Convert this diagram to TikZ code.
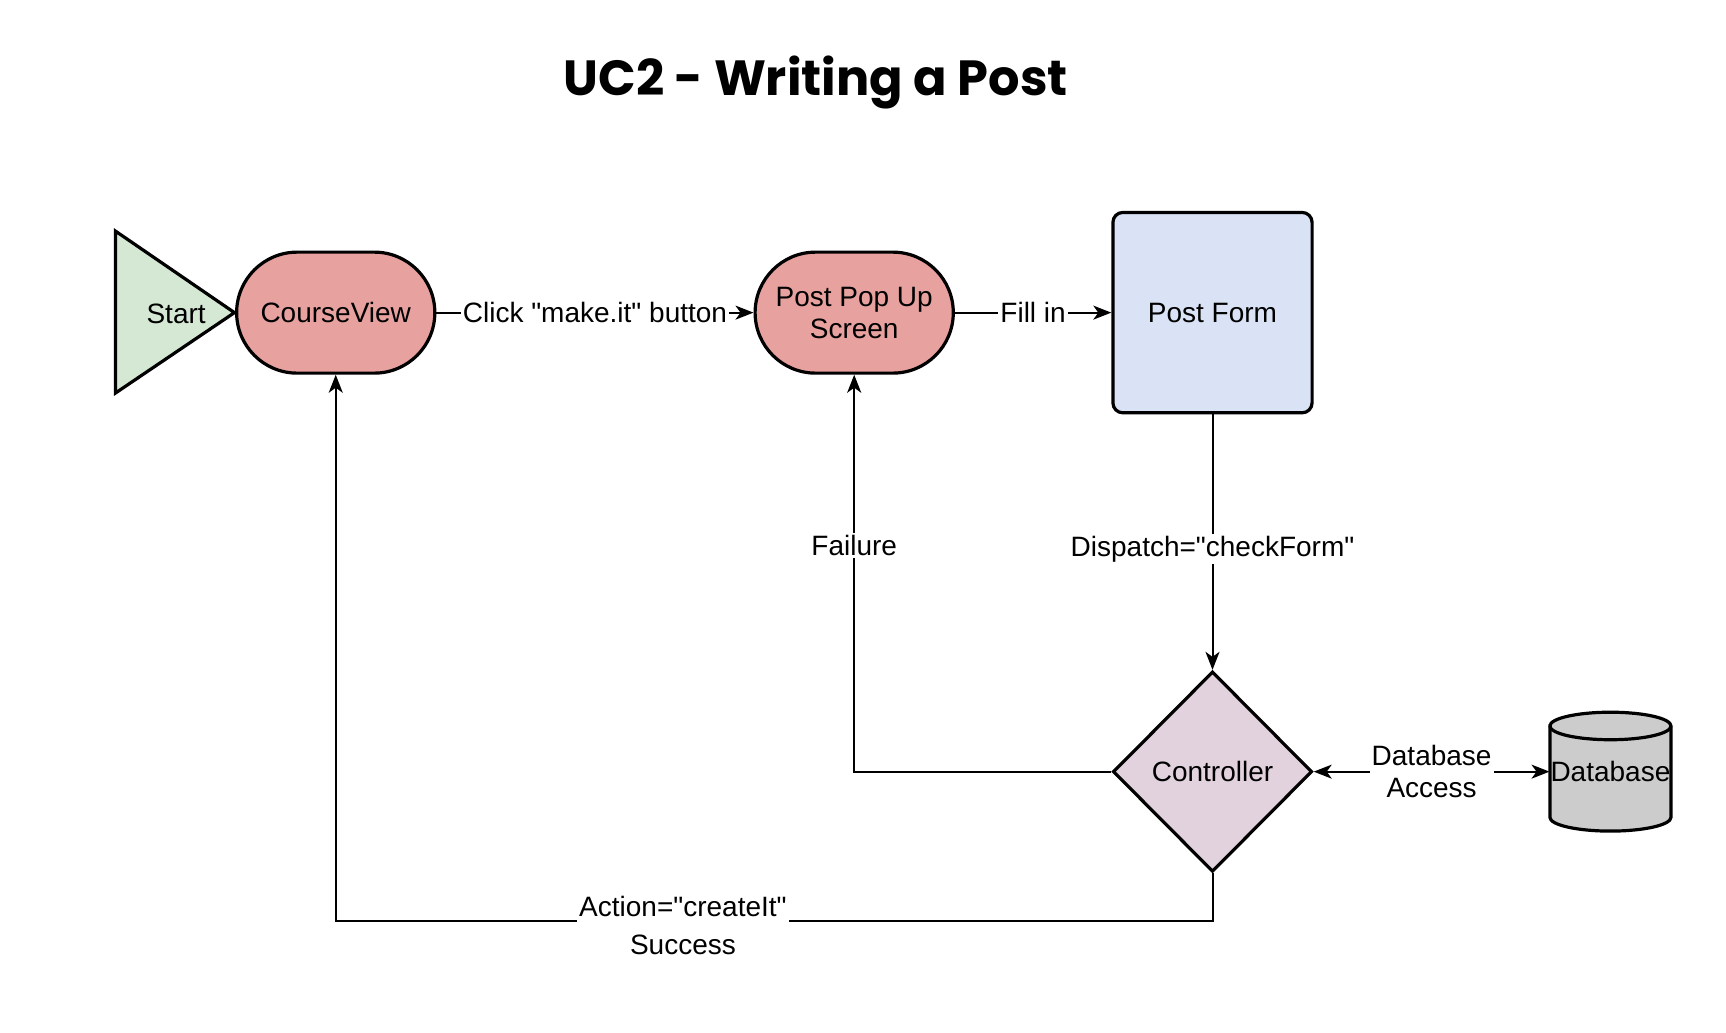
\documentclass[tikz,border=0pt]{standalone}
\usepackage{fontspec}
\setmainfont{Liberation Sans}
\newfontfamily\titlefont{Poppins}
\usepackage{graphicx}
\usetikzlibrary{shapes.geometric,shapes.misc,arrows.meta}
\definecolor{startgreen}{RGB}{213,232,212}
\definecolor{pillred}{RGB}{231,161,158}
\definecolor{formblue}{RGB}{217,227,245}
\definecolor{ctrlpurple}{RGB}{226,210,222}
\definecolor{dbgray}{RGB}{204,204,204}
\newcommand\dq{\textquotedbl}
\begin{document}
\begin{tikzpicture}[x=0.5504pt,y=-0.5504pt,
  font=\fontsize{14}{16}\selectfont,
  shp/.style={draw=black, line width=1.6pt},
  pill/.style={shp, rounded rectangle, fill=pillred, minimum width=99.1pt, minimum height=60.5pt, align=center, inner sep=0pt},
  formbox/.style={shp, rounded corners=5pt, fill=formblue, minimum width=99.6pt, minimum height=100.2pt},
  ctrlbox/.style={shp, diamond, fill=ctrlpurple, minimum width=99.6pt, minimum height=100.2pt, inner sep=0pt},
  conn/.style={line width=1pt, -{Stealth[length=9pt,width=7pt,inset=2.5pt]}},
  lbl/.style={fill=white, inner sep=1pt, text=black}]
\useasboundingbox (0,0) rectangle (1568,938);
% title
\node (title) at (741,75) {\resizebox{252pt}{!}{\titlefont\bfseries UC2 - Writing a Post}};
% start triangle
\draw[shp, fill=startgreen] (105,210) -- (213,284) -- (105,357) -- cycle;
\node (start) at (160,285) {Start};
% nodes
\node[pill] (cv) at (305,284) {CourseView};
\node[pill] (pop) at (776,284) {Post Pop Up\\Screen};
\node[formbox] (form) at (1101.5,284) {Post Form};
\node[ctrlbox] (ctrl) at (1101.5,701) {Controller};
% database cylinder
\filldraw[shp, fill=dbgray] (1408,659.5) -- (1408,742.5)
  arc[start angle=180, end angle=360, x radius=30.27pt, y radius=6.88pt]
  -- (1518,659.5)
  arc[start angle=0, end angle=180, x radius=30.27pt, y radius=6.88pt] -- cycle;
\draw[shp] (1408,659.5) arc[start angle=180, end angle=360, x radius=30.27pt, y radius=6.88pt];
\node[inner sep=0pt, minimum width=60.5pt] (db) at (1463,701) {Database};
% connectors
\draw[conn] (cv.east) -- node[lbl]{Click \dq make.it\dq{} button} (pop.west);
\draw[conn] (pop.east) -- node[lbl]{Fill in} (form.west);
\draw[conn] (form.south) -- node[lbl,pos=0.527]{Dispatch=\dq checkForm\dq} (ctrl.north);
\draw[conn] (ctrl.west) -| node[lbl,pos=0.785]{Failure} (pop.south);
\coordinate (sc) at (1101.5,837);
\draw[conn] (ctrl.south) -- (sc) -| node[lbl,pos=0.302,align=center,yshift=-2pt]{Action=\dq createIt\dq\\[2.7pt]Success} (cv.south);
\draw[line width=1pt, {Stealth[length=9pt,width=7pt,inset=2.5pt]}-{Stealth[length=9pt,width=7pt,inset=2.5pt]}] (ctrl.east) -- node[lbl,align=center]{Database\\Access} (db.west);
\end{tikzpicture}
\end{document}
